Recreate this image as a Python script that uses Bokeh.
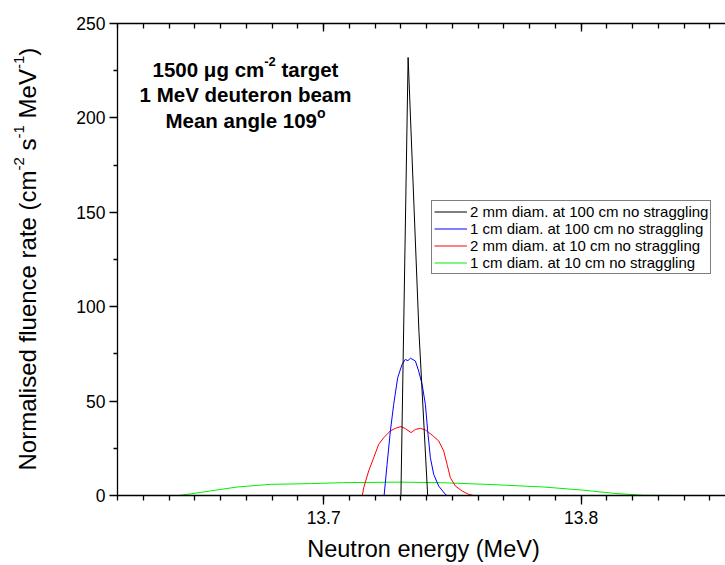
from math import pi
from bokeh.plotting import figure
from bokeh.layouts import row, column
from bokeh.models import (Range1d, LinearAxis, Label, Legend, LegendItem, FixedTicker)
from bokeh.embed import file_html
from bokeh.resources import INLINE

# ---------------- data ----------------
black_e = [13.7300, 13.7328, 13.7370, 13.7404]
black_v = [0, 232, 87, 0]

blue_e = [13.72347, 13.72463, 13.72591, 13.72720, 13.72875, 13.73046, 13.73174, 13.73270,
          13.73368, 13.73470, 13.73563, 13.73691, 13.73823, 13.73951, 13.74040, 13.74145,
          13.74274, 13.74468, 13.74728, 13.74794]
blue_v = [0, 16.5, 34.2, 48.3, 62.4, 69.5, 72.1, 71.4, 72.7, 72.0, 71.2, 65.9, 58.9, 48.3,
          34.2, 20.0, 11.2, 5.0, 0.6, 0]

red_e = [13.71503, 13.71554, 13.71748, 13.71943, 13.72137, 13.72331, 13.72591, 13.72786,
         13.73007, 13.73174, 13.73396, 13.73563, 13.73757, 13.73951, 13.74211, 13.74468,
         13.74662, 13.74794, 13.74922, 13.75117, 13.75377, 13.75633, 13.75828]
red_v = [0, 4.1, 13.0, 20.0, 27.1, 30.6, 34.2, 35.6, 36.5, 35.4, 33.3, 35.0, 35.6, 34.7,
         32.0, 28.9, 23.6, 16.5, 9.4, 5.0, 2.4, 0.6, 0]

green_e = [13.64394, 13.65596, 13.66636, 13.67929, 13.69483, 13.70777, 13.72980, 13.73368,
           13.74534, 13.76348, 13.78547, 13.80101, 13.81398, 13.82432, 13.83858]
green_v = [0, 2.4, 4.5, 5.9, 6.3, 6.8, 7.1, 7.0, 6.8, 5.9, 4.5, 2.8, 1.0, 0.1, 0]

series_labels = ["2 mm diam. at 100 cm no straggling",
                 "1 cm diam. at 100 cm no straggling",
                 "2 mm diam. at 10 cm no straggling",
                 "1 cm diam. at 10 cm no straggling"]
series_colors = ["#000000", "#0000ff", "#ff0000", "#00ee00"]

x_major = [13.7, 13.8]
x_minor = [round(13.62 + 0.01 * i, 2) for i in range(24)]
y_major = [0, 50, 100, 150, 200, 250]
y_minor = [25, 75, 125, 175, 225]

FONT = "Liberation Sans"
NB = "\u00a0"

# approximate Arial advance widths (per 1000 em) used to lay out rich-text pieces
W_REG = {" ": 278, NB: 278, "(": 333, ")": 333, "-": 333, ".": 278, "N": 722, "M": 833,
         "V": 667, "a": 556, "c": 500, "d": 556, "e": 556, "f": 278, "g": 556, "i": 222,
         "l": 222, "m": 833, "n": 556, "o": 556, "r": 333, "s": 500, "t": 278, "u": 556,
         "y": 500}
W_BOLD = {" ": 278, NB: 278, "-": 333, "M": 833, "V": 667, "a": 556, "b": 611, "c": 556,
          "d": 611, "e": 556, "g": 611, "l": 278, "m": 889, "n": 611, "o": 611, "r": 389,
          "t": 333, "u": 611, "\u03bc": 611}


def tw(s, size, bold=False):
    table = W_BOLD if bold else W_REG
    return sum(table.get(ch, 556) for ch in s) * size / 1000.0


def add_label(fig, x, y, text, size, bold=False, angle=0.0, align="left"):
    fig.add_layout(Label(x=x, y=y, x_units="screen", y_units="screen", text=text,
                         text_font=FONT, text_font_size=f"{size}px",
                         text_font_style="bold" if bold else "normal",
                         text_color="black", text_align=align, text_baseline="alphabetic",
                         angle=angle))


def blank_fig(w, h):
    f = figure(width=w, height=h, output_backend="svg", toolbar_location=None,
               x_axis_type=None, y_axis_type=None, min_border=0,
               x_range=Range1d(0, 1), y_range=Range1d(0, 1))
    f.outline_line_color = None
    f.xgrid.visible = False
    f.ygrid.visible = False
    return f


# ---------------- main plot ----------------
MAIN_W, MAIN_H = 665, 535
p = figure(width=MAIN_W, height=MAIN_H, output_backend="svg", toolbar_location=None,
           x_range=Range1d(13.6199, 13.8561), y_range=Range1d(0, 250),
           min_border_left=57, min_border_right=0, min_border_top=23, min_border_bottom=40)
p.outline_line_color = None
p.xgrid.visible = False
p.ygrid.visible = False

for ax in (p.xaxis[0], p.yaxis[0]):
    ax.axis_line_color = "black"
    ax.axis_line_width = 1.3
    ax.major_tick_line_color = "black"
    ax.minor_tick_line_color = "black"
    ax.major_tick_line_width = 1.3
    ax.minor_tick_line_width = 1.3
    ax.major_tick_in = 0
    ax.minor_tick_in = 0
    ax.major_label_text_font = FONT
    ax.major_label_text_font_size = "17.5px"
    ax.major_label_text_color = "black"

p.xaxis.ticker = FixedTicker(ticks=x_major, minor_ticks=x_minor)
p.xaxis.major_tick_out = 9
p.xaxis.minor_tick_out = 5
p.xaxis.major_label_standoff = 6
p.yaxis.ticker = FixedTicker(ticks=y_major, minor_ticks=y_minor)
p.yaxis.major_tick_out = 8
p.yaxis.minor_tick_out = 4
p.yaxis.major_label_standoff = 4

top = LinearAxis(ticker=FixedTicker(ticks=x_major, minor_ticks=x_minor))
top.axis_line_color = "black"
top.axis_line_width = 1.3
top.major_tick_line_width = 1.3
top.minor_tick_line_width = 1.3
top.major_tick_in = 8
top.major_tick_out = 0
top.minor_tick_in = 5
top.minor_tick_out = 0
top.major_label_overrides = {13.7: "", 13.8: ""}
top.major_label_standoff = 0
p.add_layout(top, "above")

r_green = p.line(green_e, green_v, line_color=series_colors[3], line_width=1)
r_red = p.line(red_e, red_v, line_color=series_colors[2], line_width=1)
r_blue = p.line(blue_e, blue_v, line_color=series_colors[1], line_width=1)
r_black = p.line(black_e, black_v, line_color=series_colors[0], line_width=1)

legend = Legend(items=[LegendItem(label=series_labels[0], renderers=[r_black]),
                       LegendItem(label=series_labels[1], renderers=[r_blue]),
                       LegendItem(label=series_labels[2], renderers=[r_red]),
                       LegendItem(label=series_labels[3], renderers=[r_green])],
                location=(314, 221))
legend.label_text_font = FONT
legend.label_text_font_size = "15px"
legend.label_text_color = "black"
legend.glyph_width = 33
legend.glyph_height = 17
legend.label_height = 17
legend.label_standoff = 3
legend.spacing = 0
legend.padding = 2
legend.margin = 0
legend.border_line_color = "black"
legend.border_line_width = 1
legend.background_fill_alpha = 1
p.add_layout(legend)


def rich_line(fig, cx, y, parts):
    total = sum(tw(t, s, b) for t, s, b, _ in parts)
    x = cx - total / 2
    for t, s, b, rise in parts:
        add_label(fig, x, y + rise, t, s, b)
        x += tw(t, s, b)


# annotation block (frame-relative screen px)
cx = 128
rich_line(p, cx, 426, [("1500 \u03bcg cm", 20.5, True, 0), ("-2", 13, True, 8),
                       (NB + "target", 20.5, True, 0)])
rich_line(p, cx, 401, [("1 MeV deuteron beam", 20.5, True, 0)])
rich_line(p, cx, 375, [("Mean angle 109", 20.5, True, 0), ("o", 14, True, 8)])

# ---------------- y axis title panel ----------------
YF_W = 60
yfig = blank_fig(YF_W, MAIN_H)
ylab = [("Normalised fluence rate (cm", 24, False), ("-2", 15, True), (NB + "s", 24, False),
        ("-1", 15, True), (NB + "MeV", 24, False), ("-1", 15, True), (")", 24, False)]
yy = 25
for t, s, sup in ylab:
    add_label(yfig, 27 - (9 if sup else 0), yy, t, s, angle=pi / 2)
    yy += tw(t, s)

# ---------------- x axis title panel ----------------
XF_H = 29
xfig = blank_fig(YF_W + MAIN_W, XF_H)
add_label(xfig, 423, 16, "Neutron energy (MeV)", 23.5, align="center")

layout = column(row(yfig, p, spacing=0), xfig, spacing=0)
open("out.html", "w").write(file_html(layout, INLINE))
